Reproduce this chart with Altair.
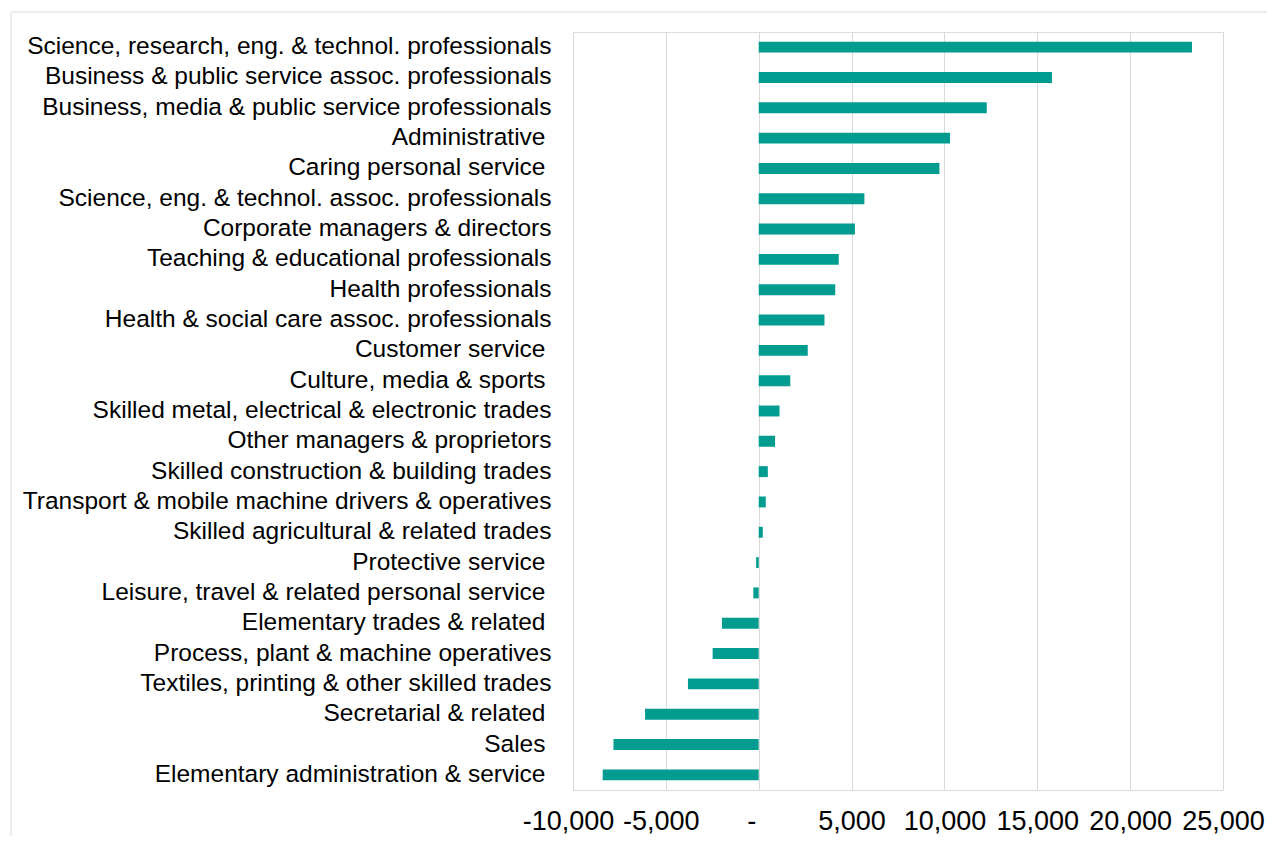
import altair as alt
import pandas as pd

categories = [
    "Science, research, eng. & technol. professionals",
    "Business & public service assoc. professionals",
    "Business, media & public service professionals",
    "Administrative ",
    "Caring personal service ",
    "Science, eng. & technol. assoc. professionals",
    "Corporate managers & directors",
    "Teaching & educational professionals",
    "Health professionals",
    "Health & social care assoc. professionals",
    "Customer service ",
    "Culture, media & sports ",
    "Skilled metal, electrical & electronic trades",
    "Other managers & proprietors",
    "Skilled construction & building trades",
    "Transport & mobile machine drivers & operatives",
    "Skilled agricultural & related trades",
    "Protective service ",
    "Leisure, travel & related personal service ",
    "Elementary trades & related ",
    "Process, plant & machine operatives",
    "Textiles, printing & other skilled trades",
    "Secretarial & related ",
    "Sales ",
    "Elementary administration & service ",
]

values = [23330, 15790, 12280, 10300, 9730, 5690, 5180, 4310, 4120, 3540,
          2640, 1700, 1120, 880, 490, 380, 220, -140, -290, -1980,
          -2480, -3810, -6120, -7820, -8400]

x_ticks = [-10000, -5000, 0, 5000, 10000, 15000, 20000, 25000]

df = pd.DataFrame({"category": categories, "value": values})

FONT = "Liberation Sans"

bars = alt.Chart(df).mark_bar(color="#009C90").encode(
    x=alt.X(
        "value:Q",
        scale=alt.Scale(domain=[-10000, 25000], nice=False, zero=False),
        axis=alt.Axis(
            values=x_ticks,
            title=None,
            domain=False,
            ticks=False,
            tickSize=0,
            grid=True,
            gridColor="#d9d9d9",
            gridWidth=1,
            labelFont=FONT,
            labelFontSize=27,
            labelColor="#000000",
            labelPadding=18,
            labelFlush=False,
            labelOverlap=False,
            labelOffset={
                "condition": [
                    {"test": "datum.value == 0", "value": -7.5},
                    {"test": "datum.value == -10000", "value": -5},
                    {"test": "datum.value == -5000", "value": -5},
                ],
                "value": 0,
            },
            labelExpr="datum.value == 0 ? '-' : (datum.value < 0 ? '-' : '') + format(abs(datum.value), ',')",
        ),
    ),
    y=alt.Y(
        "category:N",
        sort=categories,
        scale=alt.Scale(paddingInner=0.64, paddingOuter=0.32),
        axis=alt.Axis(
            title=None,
            domain=False,
            ticks=False,
            tickSize=0,
            grid=False,
            labelFont=FONT,
            labelFontSize=24.5,
            labelColor="#000000",
            labelPadding={
                "condition": {"test": "test(regexp(' $'), datum.value)", "value": 28},
                "value": 22,
            },
            labelLimit=1000,
        ),
    ),
)

frame = alt.Chart(pd.DataFrame({"a": [0]})).mark_rect(
    filled=False, stroke="#d9d9d9", strokeWidth=1
).encode(
    x=alt.value(-562),
    x2=alt.value(2000),
    y=alt.value(-20),
    y2=alt.value(2000),
)

chart = alt.layer(frame, bars).properties(
    width=650,
    height=758,
    autosize=alt.AutoSizeParams(type="none"),
    padding={"left": 565, "top": 24, "right": 44, "bottom": 46},
).configure_view(stroke=None).configure(background="white")

chart.save("out.html", embed_options={"renderer": "svg", "actions": False})
